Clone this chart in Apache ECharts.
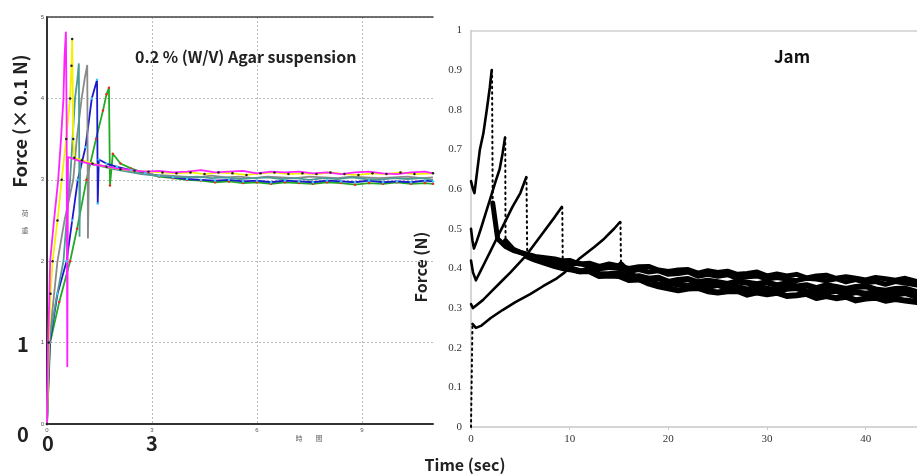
<!DOCTYPE html>
<html>
<head>
<meta charset="utf-8">
<script src="https://cdn.jsdelivr.net/npm/echarts@6/dist/echarts.min.js"></script>
<style>html,body{margin:0;padding:0;background:#fff;}#c{width:917px;height:475px;}</style>
</head>
<body>
<div id="c"></div>
<script>
// ---------- Left panel: 0.2 % (W/V) Agar suspension (Force x0.1 N vs time) ----------
const leftTicksX = [0, 3, 6, 9];
const leftTicksY = [0, 1, 2, 3, 4, 5];
const agarMagenta = [[0,0],[0.03,1.0],[0.06,1.45],[0.09,2.0],[0.2,2.5],[0.32,3.0],[0.4,3.5],[0.47,4.0],[0.5,4.5],[0.54,4.82],[0.56,3.8],[0.58,0.7],[0.6,3.28],[0.8,3.25],[1.0,3.22],[1.3,3.19],[1.6,3.17],[2.0,3.14],[2.4,3.12],[2.8,3.1],[3.2,3.11],[3.6,3.09],[4.0,3.1],[4.4,3.12],[4.8,3.09],[5.2,3.1],[5.6,3.11],[6.0,3.08],[6.4,3.1],[6.8,3.09],[7.2,3.1],[7.6,3.08],[8.0,3.09],[8.4,3.07],[8.8,3.09],[9.2,3.1],[9.6,3.08],[10.0,3.07],[10.4,3.09],[10.8,3.1],[11.03,3.08]];
const agarYellow = [[0,0],[0.05,1.0],[0.1,1.6],[0.16,2.0],[0.3,2.5],[0.42,3.0],[0.55,3.5],[0.66,4.0],[0.7,4.4],[0.72,4.73],[0.75,3.5],[0.78,3.27],[1.0,3.24],[1.3,3.2],[1.7,3.16],[2.1,3.13],[2.5,3.11],[2.9,3.1],[3.3,3.09],[3.7,3.08],[4.1,3.09],[4.5,3.07],[4.9,3.09],[5.3,3.08],[5.7,3.06],[6.1,3.08],[6.5,3.09],[6.9,3.07],[7.3,3.08],[7.7,3.07],[8.1,3.09],[8.5,3.07],[8.9,3.06],[9.3,3.08],[9.7,3.07],[10.1,3.09],[10.5,3.07],[11.03,3.08]];
const agarTeal = [[0,0],[0.06,1.0],[0.25,1.5],[0.47,2.0],[0.56,2.5],[0.66,3.0],[0.73,3.5],[0.8,4.0],[0.86,4.2],[0.91,4.43],[0.93,2.3],[0.95,3.25],[1.2,3.2],[1.5,3.17],[1.9,3.13],[2.3,3.1],[2.7,3.07],[3.1,3.05],[3.5,3.04],[3.9,3.03],[4.3,3.04],[4.7,3.02],[5.1,3.03],[5.5,3.01],[5.9,3.02],[6.3,3.03],[6.7,3.01],[7.1,3.02],[7.5,3.0],[7.9,3.02],[8.3,3.01],[8.7,3.03],[9.1,3.01],[9.5,3.0],[9.9,3.02],[10.3,3.01],[10.7,3.02],[11.03,3.0]];
const agarGray = [[0,0],[0.06,1.0],[0.3,2.0],[0.5,2.5],[0.75,3.0],[0.85,3.5],[0.99,4.0],[1.08,4.25],[1.15,4.41],[1.17,2.28],[1.2,3.2],[1.5,3.18],[1.9,3.14],[2.3,3.11],[2.7,3.08],[3.1,3.06],[3.5,3.05],[3.9,3.04],[4.3,3.03],[4.7,3.05],[5.1,3.03],[5.5,3.04],[5.9,3.02],[6.3,3.04],[6.7,3.03],[7.1,3.02],[7.5,3.04],[7.9,3.03],[8.3,3.02],[8.7,3.04],[9.1,3.03],[9.5,3.02],[9.9,3.03],[10.3,3.04],[10.7,3.02],[11.03,3.03]];
const agarBlue = [[0,0],[0.08,1.0],[0.3,1.6],[0.56,2.0],[0.72,2.5],[0.88,3.0],[1.1,3.4],[1.28,4.0],[1.43,4.23],[1.45,2.71],[1.48,3.25],[1.7,3.2],[2.0,3.16],[2.4,3.12],[2.8,3.08],[3.2,3.05],[3.6,3.03],[4.0,3.01],[4.4,3.0],[4.8,2.99],[5.2,3.0],[5.6,2.98],[6.0,2.99],[6.4,2.97],[6.8,2.99],[7.2,2.98],[7.6,2.97],[8.0,2.99],[8.4,2.98],[8.8,2.97],[9.2,2.99],[9.6,2.97],[10.0,2.98],[10.4,2.97],[10.8,2.99],[11.03,2.98]];
const agarGreen = [[0,0],[0.09,1.0],[0.35,1.5],[0.66,2.0],[0.86,2.4],[1.13,3.0],[1.4,3.5],[1.6,3.85],[1.7,4.05],[1.77,4.13],[1.8,2.93],[1.88,3.32],[2.1,3.2],[2.4,3.14],[2.8,3.08],[3.2,3.04],[3.6,3.02],[4.0,3.0],[4.4,2.99],[4.8,2.97],[5.2,2.98],[5.6,2.96],[6.0,2.97],[6.4,2.95],[6.8,2.97],[7.2,2.96],[7.6,2.95],[8.0,2.97],[8.4,2.96],[8.8,2.94],[9.2,2.96],[9.6,2.95],[10.0,2.97],[10.4,2.95],[10.8,2.96],[11.03,2.95]];

// ---------- Right panel: Jam (Force N vs time sec) ----------
const rightTicksX = [0, 10, 20, 30, 40];
const jamStart = [[0,0],[0.15,0.26]];
const jamARise = [[0,0.62],[0.2,0.6],[0.35,0.59],[0.55,0.63],[0.75,0.67],[0.9,0.7],[1.25,0.74],[1.6,0.8],[1.9,0.855],[2.1,0.9]];
const jamADrop = [[2.13,0.9],[2.2,0.565]];
const jamADecay = [[2.2,0.565],[2.7,0.475],[3.5,0.455],[4.3,0.445],[5.5,0.437],[6.5,0.43],[7.5,0.427],[8.5,0.424],[9.3,0.419],[10,0.420],[11,0.411],[12,0.413],[13,0.405],[14,0.411],[15,0.406],[16,0.400],[17,0.404],[18,0.405],[19,0.396],[20,0.392],[21,0.396],[22,0.397],[23,0.388],[24,0.394],[25,0.3895],[26,0.393],[27,0.385],[28,0.387],[29,0.391],[30,0.381],[31,0.386],[32,0.381],[33,0.385],[34,0.376],[35,0.381],[36,0.383],[37,0.375],[38,0.379],[39,0.375],[40,0.371],[41,0.377],[42,0.374],[43,0.370],[44,0.375],[45.2,0.367]];
const jamBRise = [[0,0.5],[0.15,0.47],[0.3,0.45],[0.6,0.47],[1.0,0.5],[1.5,0.54],[2.0,0.58],[2.5,0.62],[2.9,0.65],[3.2,0.69],[3.45,0.73]];
const jamBDrop = [[3.47,0.73],[3.5,0.47]];
const jamBDecay = [[3.5,0.47],[4.3,0.448],[5.5,0.435],[6.5,0.428],[7.5,0.421],[8.5,0.417],[9.3,0.413],[10,0.412],[11,0.413],[12,0.404],[13,0.399],[14,0.402],[15,0.402],[16,0.392],[17,0.397],[18,0.391],[19,0.394],[20,0.385],[21,0.387],[22,0.391],[23,0.380],[24,0.385],[25,0.380],[26,0.384],[27,0.375],[28,0.379],[29,0.381],[30,0.373],[31,0.377],[32,0.373],[33,0.369],[34,0.375],[35,0.373],[36,0.369],[37,0.374],[38,0.366],[39,0.372],[40,0.364],[41,0.367],[42,0.360],[43,0.367],[44,0.363],[45.2,0.358]];
const jamCRise = [[0,0.42],[0.2,0.39],[0.5,0.37],[1.0,0.395],[1.5,0.42],[2.0,0.445],[2.7,0.48],[3.5,0.52],[4.2,0.555],[5.0,0.59],[5.6,0.63]];
const jamCDrop = [[5.62,0.63],[5.7,0.43]];
const jamCDecay = [[5.7,0.43],[6.5,0.422],[7.5,0.414],[8.5,0.406],[9.3,0.401],[10,0.398],[11,0.3925],[12,0.395],[13,0.3855],[14,0.386],[15,0.3885],[16,0.377],[17,0.3805],[18,0.374],[19,0.3765],[20,0.366],[21,0.371],[22,0.373],[23,0.365],[24,0.369],[25,0.365],[26,0.361],[27,0.367],[28,0.364],[29,0.360],[30,0.365],[31,0.357],[32,0.3628],[33,0.3547],[34,0.3576],[35,0.3505],[36,0.3574],[37,0.3533],[38,0.3482],[39,0.3531],[40,0.355],[41,0.347],[42,0.344],[43,0.348],[44,0.349],[45.2,0.340]];
const jamDRise = [[0,0.31],[0.2,0.3],[0.4,0.295],[1.2,0.32],[2.2,0.345],[3,0.365],[4,0.39],[5.6,0.433],[7.3,0.49],[8.5,0.53],[9.2,0.555]];
const jamDDrop = [[9.25,0.555],[9.3,0.41]];
const jamDDecay = [[9.3,0.41],[10,0.401],[11,0.393],[12,0.393],[13,0.381],[14,0.382],[15,0.381],[16,0.3706],[17,0.3722],[18,0.3658],[19,0.3594],[20,0.363],[21,0.3599],[22,0.3558],[23,0.3607],[24,0.3526],[25,0.3585],[26,0.3504],[27,0.3533],[28,0.3462],[29,0.3531],[30,0.349],[31,0.3438],[32,0.3486],[33,0.3504],[34,0.3422],[35,0.339],[36,0.3428],[37,0.3436],[38,0.3344],[39,0.3402],[40,0.336],[41,0.340],[42,0.332],[43,0.334],[44,0.338],[45.2,0.328]];
const jamERise = [[0.15,0.26],[0.5,0.25],[1,0.255],[2,0.275],[3.2,0.295],[4.5,0.315],[6,0.335],[7.3,0.355],[8.7,0.375],[9.5,0.39],[11,0.425],[12.5,0.454],[13.5,0.475],[14.5,0.5],[15.1,0.517]];
const jamEDrop = [[15.15,0.517],[15.2,0.41]];
const jamEDecay = [[15.2,0.41],[16,0.39],[17,0.373],[18,0.362],[19,0.355],[20,0.350],[21,0.3446],[22,0.3492],[23,0.3508],[24,0.3424],[25,0.339],[26,0.3426],[27,0.3432],[28,0.3338],[29,0.3394],[30,0.335],[31,0.3387],[32,0.3304],[33,0.3321],[34,0.3358],[35,0.3255],[36,0.3302],[37,0.3249],[38,0.3286],[39,0.3193],[40,0.324],[41,0.3262],[42,0.3184],[43,0.3226],[44,0.3188],[45.2,0.315]];

const LEFT_XMAX = 11.03, RIGHT_XMAX = 45.2;

const chart = echarts.init(document.getElementById('c'), null, {renderer: 'canvas'});

function agarLine(data, color, symColor) {
  return {
    type: 'line', xAxisIndex: 0, yAxisIndex: 0, data: data,
    showSymbol: !!symColor, symbol: 'circle', symbolSize: 2.5,
    itemStyle: {color: symColor || color},
    lineStyle: {color: color, width: 1.8},
    silent: true, z: 3
  };
}
function jamLine(data, width) {
  return {
    type: 'line', xAxisIndex: 2, yAxisIndex: 2, data: data, showSymbol: false,
    lineStyle: {color: '#000', width: width, cap: 'round', join: 'round'}, silent: true, z: 3
  };
}
function jamDots(data) {
  return {
    type: 'line', xAxisIndex: 2, yAxisIndex: 2, data: data, showSymbol: false,
    lineStyle: {color: '#000', width: 2, type: [1.5, 4], cap: 'round'}, silent: true, z: 3
  };
}

const serif = '"Liberation Serif", "DejaVu Serif", serif';
const sans = '"Noto Sans CJK JP", "Noto Sans", sans-serif';

const option = {
  animation: false,
  backgroundColor: '#fff',
  grid: [
    {left: 47, top: 17, width: 386, height: 407},
    {left: 471, top: 30.5, width: 446, height: 396.5}
  ],
  xAxis: [
    {gridIndex: 0, type: 'value', min: 0, max: LEFT_XMAX, interval: 3,
      axisLine: {show: true, onZero: false, lineStyle: {color: '#333', width: 2}},
      axisTick: {show: false},
      axisLabel: {fontSize: 6, color: '#555', margin: 3, showMaxLabel: false,
        formatter: v => leftTicksX.indexOf(v) >= 0 ? String(v) : ''},
      splitLine: {show: true, lineStyle: {type: [2, 2], width: 1, color: ['#bbb', '#bbb', '#bbb', '#bbb', 'rgba(0,0,0,0)']}}},
    {gridIndex: 0, type: 'value', position: 'top', min: 0, max: LEFT_XMAX, interval: 3,
      axisLine: {show: true, onZero: false, lineStyle: {color: '#444', width: 1.5}},
      axisTick: {show: false}, axisLabel: {show: false}, splitLine: {show: false}},
    {gridIndex: 1, type: 'value', min: 0, max: RIGHT_XMAX, interval: 10,
      axisLine: {show: true, onZero: false, lineStyle: {color: '#c8c8c8', width: 1.5}},
      axisTick: {show: true, length: 3, lineStyle: {color: '#c8c8c8'}},
      axisLabel: {fontSize: 11, color: '#333', fontFamily: serif, margin: 7, showMaxLabel: false,
        formatter: v => rightTicksX.indexOf(v) >= 0 ? String(v) : ''},
      splitLine: {show: false}},
    {gridIndex: 1, type: 'value', position: 'top', min: 0, max: RIGHT_XMAX, interval: 10,
      axisLine: {show: true, onZero: false, lineStyle: {color: '#d0d0d0', width: 1.5}},
      axisTick: {show: false}, axisLabel: {show: false}, splitLine: {show: false}}
  ],
  yAxis: [
    {gridIndex: 0, type: 'value', min: 0, max: 5, interval: 1,
      axisLine: {show: true, onZero: false, lineStyle: {color: '#333', width: 2}},
      axisTick: {show: false},
      axisLabel: {fontSize: 6, color: '#555', margin: 3,
        formatter: v => leftTicksY.indexOf(v) >= 0 ? String(v) : ''},
      splitLine: {show: true, lineStyle: {type: [2, 2], width: 1, color: '#bbb'}}},
    {gridIndex: 0, type: 'value', min: 0, max: 5, interval: 1, show: false},
    {gridIndex: 1, type: 'value', min: 0, max: 1, interval: 0.1,
      axisLine: {show: true, onZero: false, lineStyle: {color: '#c8c8c8', width: 1.5}},
      axisTick: {show: false},
      axisLabel: {fontSize: 11, color: '#333', fontFamily: serif, margin: 9,
        formatter: v => (Math.round(v * 10) / 10).toString()},
      splitLine: {show: false}}
  ],
  series: [
    agarLine(agarGreen, '#22aa22', '#e03020'),
    agarLine(agarBlue, '#1a1acc', '#40c8ff'),
    agarLine(agarGray, '#8a8a8a', null),
    agarLine(agarTeal, '#4f9a94', null),
    agarLine(agarYellow, '#f2f200', '#222'),
    agarLine(agarMagenta, '#ff22ff', null),
    jamDots(jamStart),
    jamLine(jamERise, 2.6), jamDots(jamEDrop), jamLine(jamEDecay, 6),
    jamLine(jamDRise, 2.6), jamDots(jamDDrop), jamLine(jamDDecay, 6),
    jamLine(jamCRise, 2.6), jamDots(jamCDrop), jamLine(jamCDecay, 6),
    jamLine(jamBRise, 2.6), jamDots(jamBDrop), jamLine(jamBDecay, 5),
    jamLine(jamARise, 2.6), jamDots(jamADrop), jamLine(jamADecay, 5)
  ],
  graphic: [
    {type: 'text', x: 20, y: 121, rotation: Math.PI / 2,
      style: {text: 'Force (× 0.1 N)', font: 'bold 18px ' + sans, fill: '#222', align: 'center', verticalAlign: 'middle'}},
    {type: 'text', x: 135, y: 57,
      style: {text: '0.2 % (W/V) Agar suspension', font: 'bold 16px ' + sans, fill: '#222', align: 'left', verticalAlign: 'middle'}},
    {type: 'text', x: 23, y: 344, style: {text: '1', font: 'bold 20px ' + sans, fill: '#222', align: 'center', verticalAlign: 'middle'}},
    {type: 'text', x: 23, y: 434, style: {text: '0', font: 'bold 20px ' + sans, fill: '#222', align: 'center', verticalAlign: 'middle'}},
    {type: 'text', x: 48, y: 443, style: {text: '0', font: 'bold 20px ' + sans, fill: '#222', align: 'center', verticalAlign: 'middle'}},
    {type: 'text', x: 152, y: 443, style: {text: '3', font: 'bold 20px ' + sans, fill: '#222', align: 'center', verticalAlign: 'middle'}},
    {type: 'text', x: 25, y: 213, style: {text: '荷', font: '7px ' + sans, fill: '#666', align: 'center', verticalAlign: 'middle'}},
    {type: 'text', x: 25, y: 230, style: {text: '重', font: '7px ' + sans, fill: '#666', align: 'center', verticalAlign: 'middle'}},
    {type: 'text', x: 299, y: 438, style: {text: '時', font: '7px ' + sans, fill: '#666', align: 'center', verticalAlign: 'middle'}},
    {type: 'text', x: 319, y: 438, style: {text: '間', font: '7px ' + sans, fill: '#666', align: 'center', verticalAlign: 'middle'}},
    {type: 'text', x: 792, y: 57, style: {text: 'Jam', font: 'bold 17px ' + sans, fill: '#111', align: 'center', verticalAlign: 'middle'}},
    {type: 'text', x: 421, y: 267, rotation: Math.PI / 2,
      style: {text: 'Force (N)', font: 'bold 16px ' + sans, fill: '#222', align: 'center', verticalAlign: 'middle'}},
    {type: 'text', x: 465, y: 465, style: {text: 'Time (sec)', font: 'bold 16px ' + sans, fill: '#222', align: 'center', verticalAlign: 'middle'}}
  ]
};
chart.setOption(option);
</script>
</body>
</html>
